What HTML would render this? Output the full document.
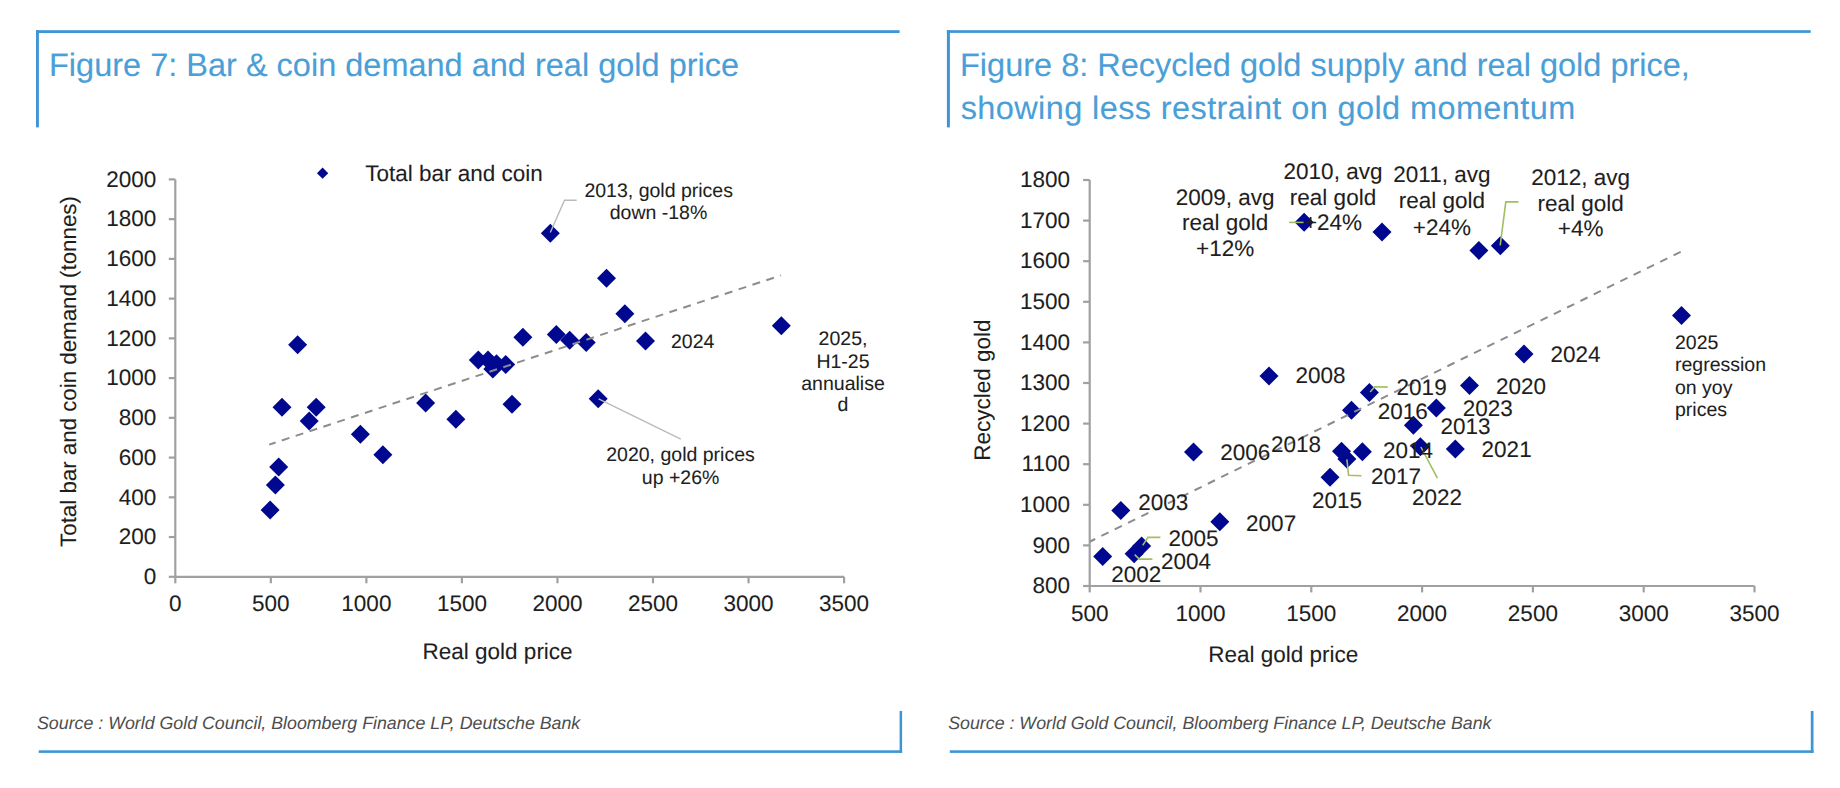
<!DOCTYPE html>
<html><head><meta charset="utf-8"><title>Figures 7 and 8</title>
<style>
html,body{margin:0;padding:0;background:#fff;}
body{width:1840px;height:788px;overflow:hidden;}
svg{display:block;font-family:"Liberation Sans", sans-serif;}
text{text-rendering:geometricPrecision;}
</style></head><body>
<svg width="1840" height="788" viewBox="0 0 1840 788">
<rect x="0" y="0" width="1840" height="788" fill="#fff"/>
<rect x="36.00" y="30.20" width="863.60" height="2.80" fill="#3d95d5"/>
<rect x="36.00" y="30.20" width="2.90" height="97.20" fill="#3d95d5"/>
<rect x="38.70" y="750.30" width="863.40" height="2.60" fill="#3d95d5"/>
<rect x="899.60" y="711.00" width="2.50" height="41.90" fill="#3d95d5"/>
<rect x="946.90" y="30.20" width="863.80" height="2.70" fill="#3d95d5"/>
<rect x="946.90" y="30.20" width="3.00" height="97.20" fill="#3d95d5"/>
<rect x="949.80" y="750.30" width="863.70" height="2.60" fill="#3d95d5"/>
<rect x="1810.80" y="711.00" width="2.70" height="41.90" fill="#3d95d5"/>
<text x="49.00" y="76.10" font-size="32.5" text-anchor="start" fill="#4a9fd8" stroke="#4a9fd8" stroke-width="0.12">Figure 7: Bar &amp; coin demand and real gold price</text>
<text x="960.00" y="76.30" font-size="32.5" text-anchor="start" fill="#4a9fd8" stroke="#4a9fd8" stroke-width="0.12">Figure 8: Recycled gold supply and real gold price,</text>
<text x="960.70" y="118.60" font-size="32.5" text-anchor="start" fill="#4a9fd8" stroke="#4a9fd8" stroke-width="0.12" letter-spacing="0.39">showing less restraint on gold momentum</text>
<text x="37.00" y="729.10" font-size="17.8" text-anchor="start" fill="#4d4d4d" stroke="#4d4d4d" stroke-width="0" font-style="italic">Source : World Gold Council, Bloomberg Finance LP, Deutsche Bank</text>
<text x="948.20" y="728.90" font-size="17.8" text-anchor="start" fill="#4d4d4d" stroke="#4d4d4d" stroke-width="0" font-style="italic">Source : World Gold Council, Bloomberg Finance LP, Deutsche Bank</text>
<polyline points="175.30,179.40 175.30,576.80" fill="none" stroke="#a0a0a0" stroke-width="2.2"/>
<polyline points="175.30,576.80 844.10,576.80" fill="none" stroke="#a0a0a0" stroke-width="2.2"/>
<polyline points="168.80,576.80 175.30,576.80" fill="none" stroke="#a0a0a0" stroke-width="2.2"/>
<text x="156.30" y="584.00" font-size="22.5" text-anchor="end" fill="#1e1e1e" stroke="#1e1e1e" stroke-width="0.08">0</text>
<polyline points="168.80,537.06 175.30,537.06" fill="none" stroke="#a0a0a0" stroke-width="2.2"/>
<text x="156.30" y="544.26" font-size="22.5" text-anchor="end" fill="#1e1e1e" stroke="#1e1e1e" stroke-width="0.08">200</text>
<polyline points="168.80,497.32 175.30,497.32" fill="none" stroke="#a0a0a0" stroke-width="2.2"/>
<text x="156.30" y="504.52" font-size="22.5" text-anchor="end" fill="#1e1e1e" stroke="#1e1e1e" stroke-width="0.08">400</text>
<polyline points="168.80,457.58 175.30,457.58" fill="none" stroke="#a0a0a0" stroke-width="2.2"/>
<text x="156.30" y="464.78" font-size="22.5" text-anchor="end" fill="#1e1e1e" stroke="#1e1e1e" stroke-width="0.08">600</text>
<polyline points="168.80,417.84 175.30,417.84" fill="none" stroke="#a0a0a0" stroke-width="2.2"/>
<text x="156.30" y="425.04" font-size="22.5" text-anchor="end" fill="#1e1e1e" stroke="#1e1e1e" stroke-width="0.08">800</text>
<polyline points="168.80,378.10 175.30,378.10" fill="none" stroke="#a0a0a0" stroke-width="2.2"/>
<text x="156.30" y="385.30" font-size="22.5" text-anchor="end" fill="#1e1e1e" stroke="#1e1e1e" stroke-width="0.08">1000</text>
<polyline points="168.80,338.36 175.30,338.36" fill="none" stroke="#a0a0a0" stroke-width="2.2"/>
<text x="156.30" y="345.56" font-size="22.5" text-anchor="end" fill="#1e1e1e" stroke="#1e1e1e" stroke-width="0.08">1200</text>
<polyline points="168.80,298.62 175.30,298.62" fill="none" stroke="#a0a0a0" stroke-width="2.2"/>
<text x="156.30" y="305.82" font-size="22.5" text-anchor="end" fill="#1e1e1e" stroke="#1e1e1e" stroke-width="0.08">1400</text>
<polyline points="168.80,258.88 175.30,258.88" fill="none" stroke="#a0a0a0" stroke-width="2.2"/>
<text x="156.30" y="266.08" font-size="22.5" text-anchor="end" fill="#1e1e1e" stroke="#1e1e1e" stroke-width="0.08">1600</text>
<polyline points="168.80,219.14 175.30,219.14" fill="none" stroke="#a0a0a0" stroke-width="2.2"/>
<text x="156.30" y="226.34" font-size="22.5" text-anchor="end" fill="#1e1e1e" stroke="#1e1e1e" stroke-width="0.08">1800</text>
<polyline points="168.80,179.40 175.30,179.40" fill="none" stroke="#a0a0a0" stroke-width="2.2"/>
<text x="156.30" y="186.60" font-size="22.5" text-anchor="end" fill="#1e1e1e" stroke="#1e1e1e" stroke-width="0.08">2000</text>
<polyline points="175.30,576.80 175.30,583.30" fill="none" stroke="#a0a0a0" stroke-width="2.2"/>
<text x="175.30" y="611.00" font-size="22.5" text-anchor="middle" fill="#1e1e1e" stroke="#1e1e1e" stroke-width="0.08">0</text>
<polyline points="270.84,576.80 270.84,583.30" fill="none" stroke="#a0a0a0" stroke-width="2.2"/>
<text x="270.84" y="611.00" font-size="22.5" text-anchor="middle" fill="#1e1e1e" stroke="#1e1e1e" stroke-width="0.08">500</text>
<polyline points="366.38,576.80 366.38,583.30" fill="none" stroke="#a0a0a0" stroke-width="2.2"/>
<text x="366.38" y="611.00" font-size="22.5" text-anchor="middle" fill="#1e1e1e" stroke="#1e1e1e" stroke-width="0.08">1000</text>
<polyline points="461.92,576.80 461.92,583.30" fill="none" stroke="#a0a0a0" stroke-width="2.2"/>
<text x="461.92" y="611.00" font-size="22.5" text-anchor="middle" fill="#1e1e1e" stroke="#1e1e1e" stroke-width="0.08">1500</text>
<polyline points="557.46,576.80 557.46,583.30" fill="none" stroke="#a0a0a0" stroke-width="2.2"/>
<text x="557.46" y="611.00" font-size="22.5" text-anchor="middle" fill="#1e1e1e" stroke="#1e1e1e" stroke-width="0.08">2000</text>
<polyline points="653.00,576.80 653.00,583.30" fill="none" stroke="#a0a0a0" stroke-width="2.2"/>
<text x="653.00" y="611.00" font-size="22.5" text-anchor="middle" fill="#1e1e1e" stroke="#1e1e1e" stroke-width="0.08">2500</text>
<polyline points="748.54,576.80 748.54,583.30" fill="none" stroke="#a0a0a0" stroke-width="2.2"/>
<text x="748.54" y="611.00" font-size="22.5" text-anchor="middle" fill="#1e1e1e" stroke="#1e1e1e" stroke-width="0.08">3000</text>
<polyline points="844.08,576.80 844.08,583.30" fill="none" stroke="#a0a0a0" stroke-width="2.2"/>
<text x="844.08" y="611.00" font-size="22.5" text-anchor="middle" fill="#1e1e1e" stroke="#1e1e1e" stroke-width="0.08">3500</text>
<text transform="translate(75.5 371.5) rotate(-90)" x="0" y="0" font-size="22.3" text-anchor="middle" fill="#1e1e1e" stroke="#1e1e1e" stroke-width="0.08">Total bar and coin demand (tonnes)</text>
<text x="497.60" y="659.40" font-size="22.5" text-anchor="middle" fill="#1e1e1e" stroke="#1e1e1e" stroke-width="0.08">Real gold price</text>
<path d="M322.60 167.55L328.25 173.20L322.60 178.85L316.95 173.20Z" fill="#00088f"/>
<text x="365.20" y="181.10" font-size="22.5" text-anchor="start" fill="#1e1e1e" stroke="#1e1e1e" stroke-width="0.08">Total bar and coin</text>
<path d="M270.10 500.40L279.60 509.90L270.10 519.40L260.60 509.90Z" fill="#00088f"/>
<path d="M275.40 475.50L284.90 485.00L275.40 494.50L265.90 485.00Z" fill="#00088f"/>
<path d="M278.70 457.60L288.20 467.10L278.70 476.60L269.20 467.10Z" fill="#00088f"/>
<path d="M282.00 397.70L291.50 407.20L282.00 416.70L272.50 407.20Z" fill="#00088f"/>
<path d="M297.60 335.20L307.10 344.70L297.60 354.20L288.10 344.70Z" fill="#00088f"/>
<path d="M309.20 411.40L318.70 420.90L309.20 430.40L299.70 420.90Z" fill="#00088f"/>
<path d="M316.20 397.70L325.70 407.20L316.20 416.70L306.70 407.20Z" fill="#00088f"/>
<path d="M360.40 424.70L369.90 434.20L360.40 443.70L350.90 434.20Z" fill="#00088f"/>
<path d="M382.90 445.30L392.40 454.80L382.90 464.30L373.40 454.80Z" fill="#00088f"/>
<path d="M425.60 393.50L435.10 403.00L425.60 412.50L416.10 403.00Z" fill="#00088f"/>
<path d="M455.90 409.80L465.40 419.30L455.90 428.80L446.40 419.30Z" fill="#00088f"/>
<path d="M478.30 350.40L487.80 359.90L478.30 369.40L468.80 359.90Z" fill="#00088f"/>
<path d="M488.00 350.50L497.50 360.00L488.00 369.50L478.50 360.00Z" fill="#00088f"/>
<path d="M496.50 354.20L506.00 363.70L496.50 373.20L487.00 363.70Z" fill="#00088f"/>
<path d="M492.80 359.60L502.30 369.10L492.80 378.60L483.30 369.10Z" fill="#00088f"/>
<path d="M505.70 355.00L515.20 364.50L505.70 374.00L496.20 364.50Z" fill="#00088f"/>
<path d="M512.00 394.70L521.50 404.20L512.00 413.70L502.50 404.20Z" fill="#00088f"/>
<path d="M522.90 327.70L532.40 337.20L522.90 346.70L513.40 337.20Z" fill="#00088f"/>
<path d="M550.30 223.70L559.80 233.20L550.30 242.70L540.80 233.20Z" fill="#00088f"/>
<path d="M556.30 325.10L565.80 334.60L556.30 344.10L546.80 334.60Z" fill="#00088f"/>
<path d="M569.70 330.80L579.20 340.30L569.70 349.80L560.20 340.30Z" fill="#00088f"/>
<path d="M586.20 332.90L595.70 342.40L586.20 351.90L576.70 342.40Z" fill="#00088f"/>
<path d="M598.20 389.20L607.70 398.70L598.20 408.20L588.70 398.70Z" fill="#00088f"/>
<path d="M606.50 268.70L616.00 278.20L606.50 287.70L597.00 278.20Z" fill="#00088f"/>
<path d="M624.90 304.20L634.40 313.70L624.90 323.20L615.40 313.70Z" fill="#00088f"/>
<path d="M645.50 331.40L655.00 340.90L645.50 350.40L636.00 340.90Z" fill="#00088f"/>
<path d="M781.30 316.30L790.80 325.80L781.30 335.30L771.80 325.80Z" fill="#00088f"/>
<polyline points="550.30,232.50 564.50,200.30 576.70,200.30" fill="none" stroke="#bababa" stroke-width="1.4"/>
<polyline points="598.60,398.90 680.80,439.10" fill="none" stroke="#bababa" stroke-width="1.4"/>
<polyline points="269.20,444.60 780.90,275.40" fill="none" stroke="#8c8c8c" stroke-width="2.0" stroke-dasharray="8 6.58" stroke-dashoffset="1.3"/>
<text x="658.70" y="197.20" font-size="19.5" text-anchor="middle" fill="#1e1e1e" stroke="#1e1e1e" stroke-width="0.08">2013, gold prices</text>
<text x="658.50" y="218.50" font-size="19.5" text-anchor="middle" fill="#1e1e1e" stroke="#1e1e1e" stroke-width="0.08">down -18%</text>
<text x="671.00" y="347.70" font-size="19.5" text-anchor="start" fill="#1e1e1e" stroke="#1e1e1e" stroke-width="0.08">2024</text>
<text x="843.00" y="344.80" font-size="19.5" text-anchor="middle" fill="#1e1e1e" stroke="#1e1e1e" stroke-width="0.08">2025,</text>
<text x="843.00" y="368.00" font-size="19.5" text-anchor="middle" fill="#1e1e1e" stroke="#1e1e1e" stroke-width="0.08">H1-25</text>
<text x="843.00" y="389.80" font-size="19.5" text-anchor="middle" fill="#1e1e1e" stroke="#1e1e1e" stroke-width="0.08">annualise</text>
<text x="843.00" y="410.60" font-size="19.5" text-anchor="middle" fill="#1e1e1e" stroke="#1e1e1e" stroke-width="0.08">d</text>
<text x="680.50" y="461.30" font-size="19.5" text-anchor="middle" fill="#1e1e1e" stroke="#1e1e1e" stroke-width="0.08">2020, gold prices</text>
<text x="680.60" y="484.30" font-size="19.5" text-anchor="middle" fill="#1e1e1e" stroke="#1e1e1e" stroke-width="0.08">up +26%</text>
<polyline points="1089.70,180.00 1089.70,586.00" fill="none" stroke="#a0a0a0" stroke-width="2.2"/>
<polyline points="1089.70,586.00 1754.50,586.00" fill="none" stroke="#a0a0a0" stroke-width="2.2"/>
<polyline points="1083.10,586.00 1089.70,586.00" fill="none" stroke="#a0a0a0" stroke-width="2.2"/>
<text x="1070.00" y="593.20" font-size="22.5" text-anchor="end" fill="#1e1e1e" stroke="#1e1e1e" stroke-width="0.08">800</text>
<polyline points="1083.10,545.40 1089.70,545.40" fill="none" stroke="#a0a0a0" stroke-width="2.2"/>
<text x="1070.00" y="552.60" font-size="22.5" text-anchor="end" fill="#1e1e1e" stroke="#1e1e1e" stroke-width="0.08">900</text>
<polyline points="1083.10,504.80 1089.70,504.80" fill="none" stroke="#a0a0a0" stroke-width="2.2"/>
<text x="1070.00" y="512.00" font-size="22.5" text-anchor="end" fill="#1e1e1e" stroke="#1e1e1e" stroke-width="0.08">1000</text>
<polyline points="1083.10,464.20 1089.70,464.20" fill="none" stroke="#a0a0a0" stroke-width="2.2"/>
<text x="1070.00" y="471.40" font-size="22.5" text-anchor="end" fill="#1e1e1e" stroke="#1e1e1e" stroke-width="0.08">1100</text>
<polyline points="1083.10,423.60 1089.70,423.60" fill="none" stroke="#a0a0a0" stroke-width="2.2"/>
<text x="1070.00" y="430.80" font-size="22.5" text-anchor="end" fill="#1e1e1e" stroke="#1e1e1e" stroke-width="0.08">1200</text>
<polyline points="1083.10,383.00 1089.70,383.00" fill="none" stroke="#a0a0a0" stroke-width="2.2"/>
<text x="1070.00" y="390.20" font-size="22.5" text-anchor="end" fill="#1e1e1e" stroke="#1e1e1e" stroke-width="0.08">1300</text>
<polyline points="1083.10,342.40 1089.70,342.40" fill="none" stroke="#a0a0a0" stroke-width="2.2"/>
<text x="1070.00" y="349.60" font-size="22.5" text-anchor="end" fill="#1e1e1e" stroke="#1e1e1e" stroke-width="0.08">1400</text>
<polyline points="1083.10,301.80 1089.70,301.80" fill="none" stroke="#a0a0a0" stroke-width="2.2"/>
<text x="1070.00" y="309.00" font-size="22.5" text-anchor="end" fill="#1e1e1e" stroke="#1e1e1e" stroke-width="0.08">1500</text>
<polyline points="1083.10,261.20 1089.70,261.20" fill="none" stroke="#a0a0a0" stroke-width="2.2"/>
<text x="1070.00" y="268.40" font-size="22.5" text-anchor="end" fill="#1e1e1e" stroke="#1e1e1e" stroke-width="0.08">1600</text>
<polyline points="1083.10,220.60 1089.70,220.60" fill="none" stroke="#a0a0a0" stroke-width="2.2"/>
<text x="1070.00" y="227.80" font-size="22.5" text-anchor="end" fill="#1e1e1e" stroke="#1e1e1e" stroke-width="0.08">1700</text>
<polyline points="1083.10,180.00 1089.70,180.00" fill="none" stroke="#a0a0a0" stroke-width="2.2"/>
<text x="1070.00" y="187.20" font-size="22.5" text-anchor="end" fill="#1e1e1e" stroke="#1e1e1e" stroke-width="0.08">1800</text>
<polyline points="1089.70,586.00 1089.70,592.40" fill="none" stroke="#a0a0a0" stroke-width="2.2"/>
<text x="1089.70" y="620.50" font-size="22.5" text-anchor="middle" fill="#1e1e1e" stroke="#1e1e1e" stroke-width="0.08">500</text>
<polyline points="1200.50,586.00 1200.50,592.40" fill="none" stroke="#a0a0a0" stroke-width="2.2"/>
<text x="1200.50" y="620.50" font-size="22.5" text-anchor="middle" fill="#1e1e1e" stroke="#1e1e1e" stroke-width="0.08">1000</text>
<polyline points="1311.30,586.00 1311.30,592.40" fill="none" stroke="#a0a0a0" stroke-width="2.2"/>
<text x="1311.30" y="620.50" font-size="22.5" text-anchor="middle" fill="#1e1e1e" stroke="#1e1e1e" stroke-width="0.08">1500</text>
<polyline points="1422.10,586.00 1422.10,592.40" fill="none" stroke="#a0a0a0" stroke-width="2.2"/>
<text x="1422.10" y="620.50" font-size="22.5" text-anchor="middle" fill="#1e1e1e" stroke="#1e1e1e" stroke-width="0.08">2000</text>
<polyline points="1532.90,586.00 1532.90,592.40" fill="none" stroke="#a0a0a0" stroke-width="2.2"/>
<text x="1532.90" y="620.50" font-size="22.5" text-anchor="middle" fill="#1e1e1e" stroke="#1e1e1e" stroke-width="0.08">2500</text>
<polyline points="1643.70,586.00 1643.70,592.40" fill="none" stroke="#a0a0a0" stroke-width="2.2"/>
<text x="1643.70" y="620.50" font-size="22.5" text-anchor="middle" fill="#1e1e1e" stroke="#1e1e1e" stroke-width="0.08">3000</text>
<polyline points="1754.50,586.00 1754.50,592.40" fill="none" stroke="#a0a0a0" stroke-width="2.2"/>
<text x="1754.50" y="620.50" font-size="22.5" text-anchor="middle" fill="#1e1e1e" stroke="#1e1e1e" stroke-width="0.08">3500</text>
<text transform="translate(990.4 390.2) rotate(-90)" x="0" y="0" font-size="22.5" text-anchor="middle" fill="#1e1e1e" stroke="#1e1e1e" stroke-width="0.08">Recycled gold</text>
<text x="1283.30" y="661.90" font-size="22.5" text-anchor="middle" fill="#1e1e1e" stroke="#1e1e1e" stroke-width="0.08">Real gold price</text>
<path d="M1102.70 547.00L1112.20 556.50L1102.70 566.00L1093.20 556.50Z" fill="#00088f"/>
<path d="M1120.80 500.90L1130.30 510.40L1120.80 519.90L1111.30 510.40Z" fill="#00088f"/>
<path d="M1134.10 544.20L1143.60 553.70L1134.10 563.20L1124.60 553.70Z" fill="#00088f"/>
<path d="M1141.60 536.50L1151.10 546.00L1141.60 555.50L1132.10 546.00Z" fill="#00088f"/>
<path d="M1193.50 442.60L1203.00 452.10L1193.50 461.60L1184.00 452.10Z" fill="#00088f"/>
<path d="M1219.80 512.20L1229.30 521.70L1219.80 531.20L1210.30 521.70Z" fill="#00088f"/>
<path d="M1269.00 366.50L1278.50 376.00L1269.00 385.50L1259.50 376.00Z" fill="#00088f"/>
<path d="M1304.10 212.80L1313.60 222.30L1304.10 231.80L1294.60 222.30Z" fill="#00088f"/>
<path d="M1382.00 222.50L1391.50 232.00L1382.00 241.50L1372.50 232.00Z" fill="#00088f"/>
<path d="M1478.90 240.90L1488.40 250.40L1478.90 259.90L1469.40 250.40Z" fill="#00088f"/>
<path d="M1500.30 236.30L1509.80 245.80L1500.30 255.30L1490.80 245.80Z" fill="#00088f"/>
<path d="M1413.40 415.70L1422.90 425.20L1413.40 434.70L1403.90 425.20Z" fill="#00088f"/>
<path d="M1362.40 442.30L1371.90 451.80L1362.40 461.30L1352.90 451.80Z" fill="#00088f"/>
<path d="M1330.00 467.70L1339.50 477.20L1330.00 486.70L1320.50 477.20Z" fill="#00088f"/>
<path d="M1351.50 400.70L1361.00 410.20L1351.50 419.70L1342.00 410.20Z" fill="#00088f"/>
<path d="M1346.90 449.40L1356.40 458.90L1346.90 468.40L1337.40 458.90Z" fill="#00088f"/>
<path d="M1341.50 441.80L1351.00 451.30L1341.50 460.80L1332.00 451.30Z" fill="#00088f"/>
<path d="M1369.40 382.90L1378.90 392.40L1369.40 401.90L1359.90 392.40Z" fill="#00088f"/>
<path d="M1469.50 376.00L1479.00 385.50L1469.50 395.00L1460.00 385.50Z" fill="#00088f"/>
<path d="M1455.30 439.50L1464.80 449.00L1455.30 458.50L1445.80 449.00Z" fill="#00088f"/>
<path d="M1420.40 437.30L1429.90 446.80L1420.40 456.30L1410.90 446.80Z" fill="#00088f"/>
<path d="M1436.30 398.60L1445.80 408.10L1436.30 417.60L1426.80 408.10Z" fill="#00088f"/>
<path d="M1524.00 344.60L1533.50 354.10L1524.00 363.60L1514.50 354.10Z" fill="#00088f"/>
<path d="M1681.50 305.90L1691.00 315.40L1681.50 324.90L1672.00 315.40Z" fill="#00088f"/>
<polyline points="1289.10,222.40 1303.50,222.40" fill="none" stroke="#9fbf60" stroke-width="1.6"/>
<polyline points="1500.20,245.40 1505.80,201.90 1518.50,201.90" fill="none" stroke="#9fbf60" stroke-width="1.6"/>
<polyline points="1370.20,392.10 1374.70,386.80 1387.70,387.10" fill="none" stroke="#9fbf60" stroke-width="1.6"/>
<polyline points="1346.90,459.30 1348.60,475.30 1361.50,475.70" fill="none" stroke="#9fbf60" stroke-width="1.6"/>
<polyline points="1420.90,447.00 1437.40,478.10" fill="none" stroke="#9fbf60" stroke-width="1.6"/>
<polyline points="1142.70,545.40 1147.90,537.40 1160.40,537.40" fill="none" stroke="#9fbf60" stroke-width="1.6"/>
<polyline points="1134.70,554.60 1139.30,559.10 1152.40,559.10" fill="none" stroke="#9fbf60" stroke-width="1.6"/>
<polyline points="1090.10,541.50 1681.70,251.30" fill="none" stroke="#8c8c8c" stroke-width="2.0" stroke-dasharray="7.9 6.92" stroke-dashoffset="2.2"/>
<text x="1225.10" y="204.60" font-size="22.5" text-anchor="middle" fill="#1e1e1e" stroke="#1e1e1e" stroke-width="0.08">2009, avg</text>
<text x="1225.10" y="230.40" font-size="22.5" text-anchor="middle" fill="#1e1e1e" stroke="#1e1e1e" stroke-width="0.08">real gold</text>
<text x="1225.10" y="256.20" font-size="22.5" text-anchor="middle" fill="#1e1e1e" stroke="#1e1e1e" stroke-width="0.08">+12%</text>
<text x="1333.00" y="179.40" font-size="22.5" text-anchor="middle" fill="#1e1e1e" stroke="#1e1e1e" stroke-width="0.08">2010, avg</text>
<text x="1333.00" y="204.60" font-size="22.5" text-anchor="middle" fill="#1e1e1e" stroke="#1e1e1e" stroke-width="0.08">real gold</text>
<text x="1333.00" y="230.40" font-size="22.5" text-anchor="middle" fill="#1e1e1e" stroke="#1e1e1e" stroke-width="0.08">+24%</text>
<text x="1441.90" y="181.80" font-size="22.5" text-anchor="middle" fill="#1e1e1e" stroke="#1e1e1e" stroke-width="0.08">2011, avg</text>
<text x="1441.90" y="208.00" font-size="22.5" text-anchor="middle" fill="#1e1e1e" stroke="#1e1e1e" stroke-width="0.08">real gold</text>
<text x="1441.90" y="234.80" font-size="22.5" text-anchor="middle" fill="#1e1e1e" stroke="#1e1e1e" stroke-width="0.08">+24%</text>
<text x="1580.70" y="184.70" font-size="22.5" text-anchor="middle" fill="#1e1e1e" stroke="#1e1e1e" stroke-width="0.08">2012, avg</text>
<text x="1580.70" y="210.80" font-size="22.5" text-anchor="middle" fill="#1e1e1e" stroke="#1e1e1e" stroke-width="0.08">real gold</text>
<text x="1580.70" y="236.20" font-size="22.5" text-anchor="middle" fill="#1e1e1e" stroke="#1e1e1e" stroke-width="0.08">+4%</text>
<text x="1295.40" y="383.40" font-size="22.5" text-anchor="start" fill="#1e1e1e" stroke="#1e1e1e" stroke-width="0.08">2008</text>
<text x="1396.60" y="394.60" font-size="22.5" text-anchor="start" fill="#1e1e1e" stroke="#1e1e1e" stroke-width="0.08">2019</text>
<text x="1496.00" y="393.70" font-size="22.5" text-anchor="start" fill="#1e1e1e" stroke="#1e1e1e" stroke-width="0.08">2020</text>
<text x="1377.80" y="418.80" font-size="22.5" text-anchor="start" fill="#1e1e1e" stroke="#1e1e1e" stroke-width="0.08">2016</text>
<text x="1462.80" y="416.10" font-size="22.5" text-anchor="start" fill="#1e1e1e" stroke="#1e1e1e" stroke-width="0.08">2023</text>
<text x="1440.40" y="433.70" font-size="22.5" text-anchor="start" fill="#1e1e1e" stroke="#1e1e1e" stroke-width="0.08">2013</text>
<text x="1270.90" y="451.90" font-size="22.5" text-anchor="start" fill="#1e1e1e" stroke="#1e1e1e" stroke-width="0.08">2018</text>
<text x="1220.20" y="459.90" font-size="22.5" text-anchor="start" fill="#1e1e1e" stroke="#1e1e1e" stroke-width="0.08">2006</text>
<text x="1382.90" y="457.60" font-size="22.5" text-anchor="start" fill="#1e1e1e" stroke="#1e1e1e" stroke-width="0.08">2014</text>
<text x="1481.60" y="457.00" font-size="22.5" text-anchor="start" fill="#1e1e1e" stroke="#1e1e1e" stroke-width="0.08">2021</text>
<text x="1371.00" y="483.90" font-size="22.5" text-anchor="start" fill="#1e1e1e" stroke="#1e1e1e" stroke-width="0.08">2017</text>
<text x="1312.00" y="507.90" font-size="22.5" text-anchor="start" fill="#1e1e1e" stroke="#1e1e1e" stroke-width="0.08">2015</text>
<text x="1411.90" y="504.50" font-size="22.5" text-anchor="start" fill="#1e1e1e" stroke="#1e1e1e" stroke-width="0.08">2022</text>
<text x="1550.50" y="362.30" font-size="22.5" text-anchor="start" fill="#1e1e1e" stroke="#1e1e1e" stroke-width="0.08">2024</text>
<text x="1138.20" y="510.30" font-size="22.5" text-anchor="start" fill="#1e1e1e" stroke="#1e1e1e" stroke-width="0.08">2003</text>
<text x="1246.10" y="530.60" font-size="22.5" text-anchor="start" fill="#1e1e1e" stroke="#1e1e1e" stroke-width="0.08">2007</text>
<text x="1168.40" y="545.80" font-size="22.5" text-anchor="start" fill="#1e1e1e" stroke="#1e1e1e" stroke-width="0.08">2005</text>
<text x="1161.00" y="568.70" font-size="22.5" text-anchor="start" fill="#1e1e1e" stroke="#1e1e1e" stroke-width="0.08">2004</text>
<text x="1111.30" y="582.00" font-size="22.5" text-anchor="start" fill="#1e1e1e" stroke="#1e1e1e" stroke-width="0.08">2002</text>
<text x="1675.00" y="348.50" font-size="19.5" text-anchor="start" fill="#1e1e1e" stroke="#1e1e1e" stroke-width="0.08">2025</text>
<text x="1675.00" y="371.10" font-size="19.5" text-anchor="start" fill="#1e1e1e" stroke="#1e1e1e" stroke-width="0.08">regression</text>
<text x="1675.00" y="393.70" font-size="19.5" text-anchor="start" fill="#1e1e1e" stroke="#1e1e1e" stroke-width="0.08">on yoy</text>
<text x="1675.00" y="416.30" font-size="19.5" text-anchor="start" fill="#1e1e1e" stroke="#1e1e1e" stroke-width="0.08">prices</text>
</svg>
</body></html>
